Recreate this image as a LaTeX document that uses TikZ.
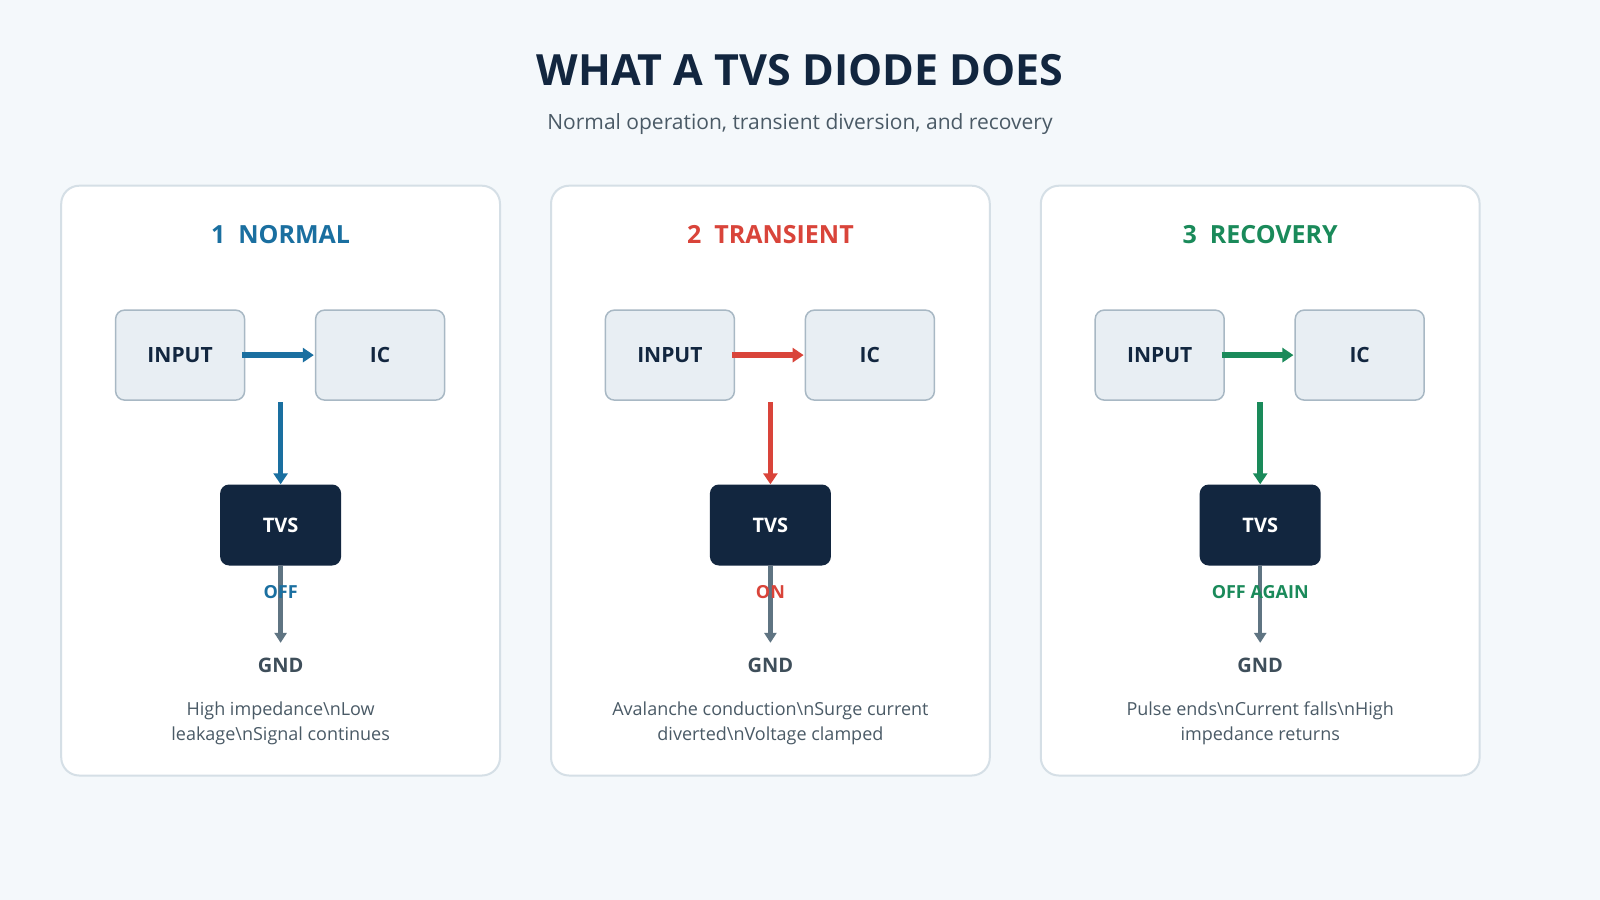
\documentclass[tikz,border=0pt]{standalone}
\usepackage{fontspec}
\setmainfont{Open Sans}
\usetikzlibrary{arrows.meta}
\definecolor{bg}{HTML}{F4F8FB}
\definecolor{navy}{HTML}{12263F}
\definecolor{cblue}{HTML}{1A6FA0}
\definecolor{cred}{HTML}{D9443A}
\definecolor{cgreen}{HTML}{1A8A5A}
\definecolor{boxf}{HTML}{E8EEF3}
\definecolor{boxd}{HTML}{A8B8C4}
\definecolor{gnda}{HTML}{5F7482}
\definecolor{pbord}{HTML}{D5DFE6}
\definecolor{txt}{HTML}{4A5A66}
\definecolor{gndt}{HTML}{3E4E5A}
\newcommand{\fs}[2][1.2]{\fontsize{#2}{#1\dimexpr#2pt\relax}\selectfont}
\begin{document}
\begin{tikzpicture}[x=1.0204pt,y=-1.0204pt,
 panel/.style={draw=pbord,line width=2pt,fill=white,rounded corners=18pt},
 sbox/.style={draw=boxd,line width=1.5pt,fill=boxf,rounded corners=9pt,minimum width=129pt,minimum height=90pt,font=\fs{21}\bfseries,text=navy},
 tvs/.style={fill=navy,rounded corners=9pt,minimum width=121pt,minimum height=81pt,font=\fs{20}\bfseries,text=white},
 arr/.style={line width=5.5pt,-{Triangle[length=11pt,width=14pt]}},
 garr/.style={gnda,line width=4.5pt,-{Triangle[length=10pt,width=12pt]}},
 desc/.style={font=\fs[1.4]{18},text=txt,align=center}]
\fill[bg] (0,0) rectangle (1568,882);
\path[use as bounding box] (0,0) rectangle (1568,882);
\node[font=\fs{43}\bfseries,text=navy] (title) at (784,69) {WHAT A TVS DIODE DOES};
\node[font=\fs{21},text=txt] (sub) at (784,122) {Normal operation, transient diversion, and recovery};
\foreach \i/\c/\h/\st/\da/\db in {0/cblue/1\ \ NORMAL/OFF/High impedance\textbackslash nLow/leakage\textbackslash nSignal continues,
 1/cred/2\ \ TRANSIENT/ON/Avalanche conduction\textbackslash nSurge current/diverted\textbackslash nVoltage clamped,
 2/cgreen/3\ \ RECOVERY/OFF AGAIN/Pulse ends\textbackslash nCurrent falls\textbackslash nHigh/impedance returns}{
 \begin{scope}[xshift=\i*480*1.0204pt]
 \draw[panel] (60,182) rectangle (490,760);
 \node[font=\fs{25}\bfseries,text=\c] (h\i) at (275,230) {\h};
 \node[sbox] (in\i) at (176.5,348) {INPUT};
 \node[sbox] (ic\i) at (372.5,348) {IC};
 \node[tvs] (t\i) at (275,514.5) {TVS};
 \coordinate (g\i) at (275,630);
 \node[font=\fs{20}\bfseries,text=gndt] (gnd\i) at (275,652) {GND};
 \draw[arr,\c] (in\i.east) ++(-3,0) -- ([xshift=-1pt]ic\i.west);
 \draw[arr,\c] (275,394) -- (t\i.north);
 \draw[garr] (t\i.south) -- (g\i);
 \node[font=\fs{18}\bfseries,text=\c] (s\i) at (275,580) {\st};
 \node[desc] (d\i) at (275,708.5) {\da\\\db};
 \end{scope}}
\end{tikzpicture}
\end{document}
